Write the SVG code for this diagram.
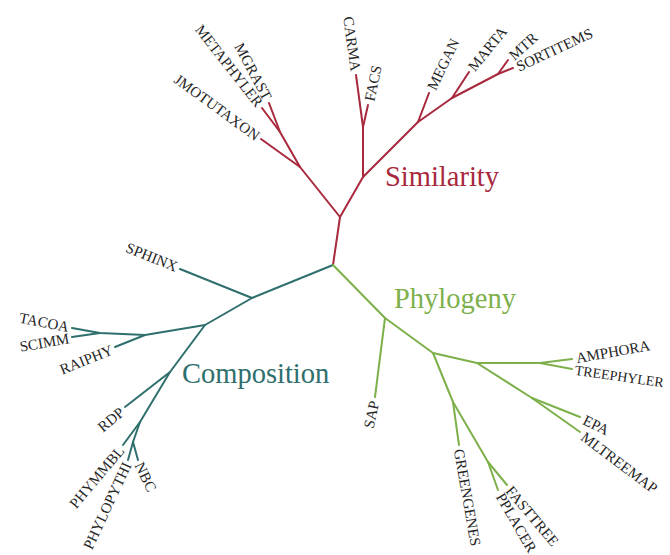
<svg xmlns="http://www.w3.org/2000/svg" width="670" height="555" viewBox="0 0 670 555">
<style>
.br{fill:none;stroke-width:2;stroke-linejoin:round;stroke-linecap:round}
.sim{stroke:#a8283c}
.com{stroke:#2f6f6d}
.phy{stroke:#7db04a}
.lb{font-family:"Liberation Serif","Times New Roman",serif;font-size:15px;fill:#262626}
.e{text-anchor:end}
.s{text-anchor:start}
.title{font-family:"Liberation Serif","Times New Roman",serif;font-size:28.5px}
</style>
<rect width="670" height="555" fill="#fff"/>
<g id="connectors">
  <g class="br sim">
    <path d="M333,265 L340,217"/>
    <path d="M340,217 L300,167 L280,132 L262,108"/>
    <path d="M280,132 L269,103"/>
    <path d="M300,167 L261,139"/>
    <path d="M340,217 L363,177 L363,127 L356,75"/>
    <path d="M363,127 L368,105"/>
    <path d="M363,177 L418,122 L452,98 L498,74 L508,60"/>
    <path d="M498,74 L513,68"/>
    <path d="M418,122 L429,93"/>
    <path d="M452,98 L469,72"/>
  </g>
  <g class="br com">
    <path d="M333,265 L252,298 L180,269"/>
    <path d="M252,298 L205,325 L145,335 L100,333 L72,328"/>
    <path d="M100,333 L72,337"/>
    <path d="M145,335 L115,347"/>
    <path d="M205,325 L170,372 L125,407"/>
    <path d="M170,372 L140,422 L123,445"/>
    <path d="M140,422 L133,442 L128,460"/>
    <path d="M133,442 L138,460"/>
  </g>
  <g class="br phy">
    <path d="M333,265 L385,318 L375,397"/>
    <path d="M385,318 L433,353 L477,363 L540,363 L572,359"/>
    <path d="M540,363 L572,369"/>
    <path d="M477,363 L532,398 L580,417"/>
    <path d="M532,398 L580,432"/>
    <path d="M433,353 L453,402 L459,445"/>
    <path d="M453,402 L488,462 L507,485"/>
    <path d="M488,462 L498,490"/>
  </g>
</g>
<g id="title-similarity"><text class="title" x="385" y="186" fill="#a8283c">Similarity</text></g>
<g id="title-composition"><text class="title" x="182" y="383" fill="#2f6f6d">Composition</text></g>
<g id="title-phylogeny"><text class="title" x="394" y="308" fill="#7db04a">Phylogeny</text></g>
<g id="n-jmotutaxon"><text class="lb e" dy=".35em" transform="translate(258,137) rotate(36)">JMOTUTAXON</text></g>
<g id="n-metaphyler"><text class="lb e" dy=".35em" transform="translate(260,105) rotate(52)">METAPHYLER</text></g>
<g id="n-mgrast"><text class="lb e" dy=".35em" transform="translate(268,99) rotate(62)">MGRAST</text></g>
<g id="n-carma"><text class="lb e" dy=".35em" transform="translate(356,71) rotate(82)">CARMA</text></g>
<g id="n-facs"><text class="lb s" dy=".35em" transform="translate(369,101) rotate(-78)">FACS</text></g>
<g id="n-megan"><text class="lb s" dy=".35em" transform="translate(431,89) rotate(-64)">MEGAN</text></g>
<g id="n-marta"><text class="lb s" dy=".35em" transform="translate(471,69) rotate(-51)">MARTA</text></g>
<g id="n-mtr"><text class="lb s" dy=".35em" transform="translate(511,57) rotate(-42)">MTR</text></g>
<g id="n-sortitems"><text class="lb s" dy=".35em" transform="translate(517,67) rotate(-25)">SORTITEMS</text></g>
<g id="n-sphinx"><text class="lb e" dy=".35em" transform="translate(177,267) rotate(22)">SPHINX</text></g>
<g id="n-tacoa"><text class="lb e" dy=".35em" transform="translate(69,327) rotate(11)">TACOA</text></g>
<g id="n-scimm"><text class="lb e" dy=".35em" transform="translate(69,338) rotate(-10)">SCIMM</text></g>
<g id="n-raiphy"><text class="lb e" dy=".35em" transform="translate(112,349) rotate(-22)">RAIPHY</text></g>
<g id="n-rdp"><text class="lb e" dy=".35em" transform="translate(122,410) rotate(-40)">RDP</text></g>
<g id="n-phymmbl"><text class="lb e" dy=".35em" transform="translate(121,448) rotate(-50)">PHYMMBL</text></g>
<g id="n-phylopythi"><text class="lb e" dy=".35em" transform="translate(127,463) rotate(-65)">PHYLOPYTHI</text></g>
<g id="n-nbc"><text class="lb s" dy=".35em" transform="translate(139,463) rotate(64)">NBC</text></g>
<g id="n-sap"><text class="lb e" dy=".35em" transform="translate(374,401) rotate(-78)">SAP</text></g>
<g id="n-amphora"><text class="lb s" dy=".35em" transform="translate(576,358) rotate(-10)">AMPHORA</text></g>
<g id="n-treephyler"><text class="lb s" dy=".35em" transform="translate(575,370) rotate(8)" style="font-size:14px">TREEPHYLER</text></g>
<g id="n-epa"><text class="lb s" dy=".35em" transform="translate(584,419) rotate(26)">EPA</text></g>
<g id="n-mltreemap"><text class="lb s" dy=".35em" transform="translate(583,435) rotate(37)">MLTREEMAP</text></g>
<g id="n-greengenes"><text class="lb s" dy=".35em" transform="translate(459,449) rotate(80)">GREENGENES</text></g>
<g id="n-fasttree"><text class="lb s" dy=".35em" transform="translate(509,488) rotate(50)">FASTTREE</text></g>
<g id="n-pplacer"><text class="lb s" dy=".35em" transform="translate(500,494) rotate(60)">PPLACER</text></g>
</svg>
